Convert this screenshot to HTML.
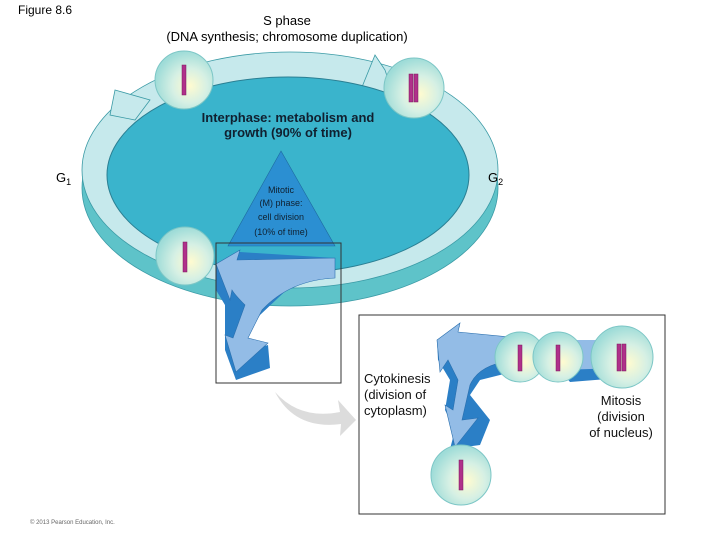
<!DOCTYPE html>
<html><head><style>
body{margin:0;background:#fff;}
svg{display:block;font-family:"Liberation Sans",Arial,sans-serif;}
</style></head><body>
<svg width="720" height="540" viewBox="0 0 720 540">
<defs>
<radialGradient id="cell" cx="0.6" cy="0.6" r="0.6">
<stop offset="0" stop-color="#fffbd0"/><stop offset="0.5" stop-color="#d6f0e4"/><stop offset="1" stop-color="#9fdcd8"/>
</radialGradient>
</defs>
<text x="18" y="14" font-size="12">Figure 8.6</text>
<text x="287" y="25" font-size="13" text-anchor="middle">S phase</text>
<text x="287" y="41" font-size="13" text-anchor="middle">(DNA synthesis; chromosome duplication)</text>

<!-- base cylinder -->
<ellipse cx="290" cy="188" rx="208" ry="118" fill="#5ec3c9" stroke="#3a9aa5" stroke-width="0.8"/>
<ellipse cx="290" cy="170" rx="208" ry="118" fill="#c6e9ec" stroke="#3a9aa5" stroke-width="0.8"/>
<polygon points="115,90 150,100 135,120 110,115" fill="#c6e9ec" stroke="#3a9aa5" stroke-width="0.8"/>
<polygon points="375,55 385,70 395,100 360,92" fill="#c6e9ec" stroke="#3a9aa5" stroke-width="0.8"/>
<ellipse cx="288" cy="175" rx="181" ry="98" fill="#3ab4cc" stroke="#2a7f93" stroke-width="1"/>

<text x="288" y="122" font-size="13" text-anchor="middle" font-weight="bold" fill="#102030">Interphase: metabolism and</text>
<text x="288" y="137" font-size="13" text-anchor="middle" font-weight="bold" fill="#102030">growth (90% of time)</text>
<text x="56" y="182" font-size="13">G<tspan font-size="9" dy="3">1</tspan></text>
<text x="488" y="182" font-size="13">G<tspan font-size="9" dy="3">2</tspan></text>

<polygon points="281,151 228,246 335,246" fill="#2b8fd2" stroke="#1e6aa0" stroke-width="0.6"/>
<g font-size="9" text-anchor="middle" fill="#102030">
<text x="281" y="193">Mitotic</text>
<text x="281" y="206">(M) phase:</text>
<text x="281" y="220">cell division</text>
<text x="281" y="235">(10% of time)</text>
</g>

<polygon points="216,264 240,252 335,258 335,278 295,282 260,315 235,355 268,345 270,368 236,380 225,350 225,305 216,290" fill="#2b7fc6"/>
<path d="M216,264 L240,250 L237,260 L335,258 L335,278 Q290,280 262,310 L248,338 L268,343 L236,372 L225,335 L233,338 L245,305 Q235,295 232,290 L230,300 Z" fill="#93bce6" stroke="#2a6fae" stroke-width="0.6"/>

<rect x="216" y="243" width="125" height="140" fill="none" stroke="#333" stroke-width="1"/>

<path d="M275,392 Q300,420 340,412 L338,400 L356,420 L340,436 L341,424 Q295,430 275,392 Z" fill="#dcdcdc"/>

<g>
<circle cx="184" cy="80" r="29" fill="url(#cell)" stroke="#7cc6c6"/>
<rect x="182" y="65" width="4" height="30" fill="#b0308a" stroke="#7a1a5e" stroke-width="0.5"/>
<circle cx="414" cy="88" r="30" fill="url(#cell)" stroke="#7cc6c6"/>
<rect x="409" y="74" width="4" height="28" fill="#b0308a" stroke="#7a1a5e" stroke-width="0.5"/>
<rect x="414" y="74" width="4" height="28" fill="#b0308a" stroke="#7a1a5e" stroke-width="0.5"/>
<circle cx="185" cy="256" r="29" fill="url(#cell)" stroke="#7cc6c6"/>
<rect x="183" y="242" width="4" height="30" fill="#b0308a" stroke="#7a1a5e" stroke-width="0.5"/>
</g>

<rect x="359" y="315" width="306" height="199" fill="#fff" stroke="#333" stroke-width="1"/>
<polygon points="437,340 460,326 455,333 520,340 520,370 480,380 470,395 490,420 480,445 450,449 455,430 445,410 450,380 438,360" fill="#2b7fc6"/>
<path d="M437,340 L460,323 L458,332 L520,338 L520,360 Q480,362 470,385 L462,420 L478,418 L455,447 L445,405 L453,410 L458,380 L448,360 L440,372 Z" fill="#93bce6" stroke="#2a6fae" stroke-width="0.6"/>
<polygon points="560,340 620,340 620,370 570,372" fill="#93bce6"/>
<polygon points="560,370 620,368 620,378 570,382" fill="#2b7fc6"/>
<circle cx="520" cy="357" r="25" fill="url(#cell)" stroke="#7cc6c6"/>
<rect x="518" y="345" width="4" height="26" fill="#b0308a" stroke="#7a1a5e" stroke-width="0.5"/>
<circle cx="558" cy="357" r="25" fill="url(#cell)" stroke="#7cc6c6"/>
<rect x="556" y="345" width="4" height="26" fill="#b0308a" stroke="#7a1a5e" stroke-width="0.5"/>
<circle cx="622" cy="357" r="31" fill="url(#cell)" stroke="#7cc6c6"/>
<rect x="617" y="344" width="4" height="27" fill="#b0308a" stroke="#7a1a5e" stroke-width="0.5"/>
<rect x="622" y="344" width="4" height="27" fill="#b0308a" stroke="#7a1a5e" stroke-width="0.5"/>
<circle cx="461" cy="475" r="30" fill="url(#cell)" stroke="#7cc6c6"/>
<rect x="459" y="460" width="4" height="30" fill="#b0308a" stroke="#7a1a5e" stroke-width="0.5"/>

<g font-size="13" fill="#111">
<text x="364" y="383">Cytokinesis</text>
<text x="364" y="399">(division of</text>
<text x="364" y="415">cytoplasm)</text>
<text x="621" y="405" text-anchor="middle">Mitosis</text>
<text x="621" y="421" text-anchor="middle">(division</text>
<text x="621" y="437" text-anchor="middle">of nucleus)</text>
</g>
<text x="30" y="524" font-size="6" fill="#666">© 2013 Pearson Education, Inc.</text>
</svg>
</body></html>
